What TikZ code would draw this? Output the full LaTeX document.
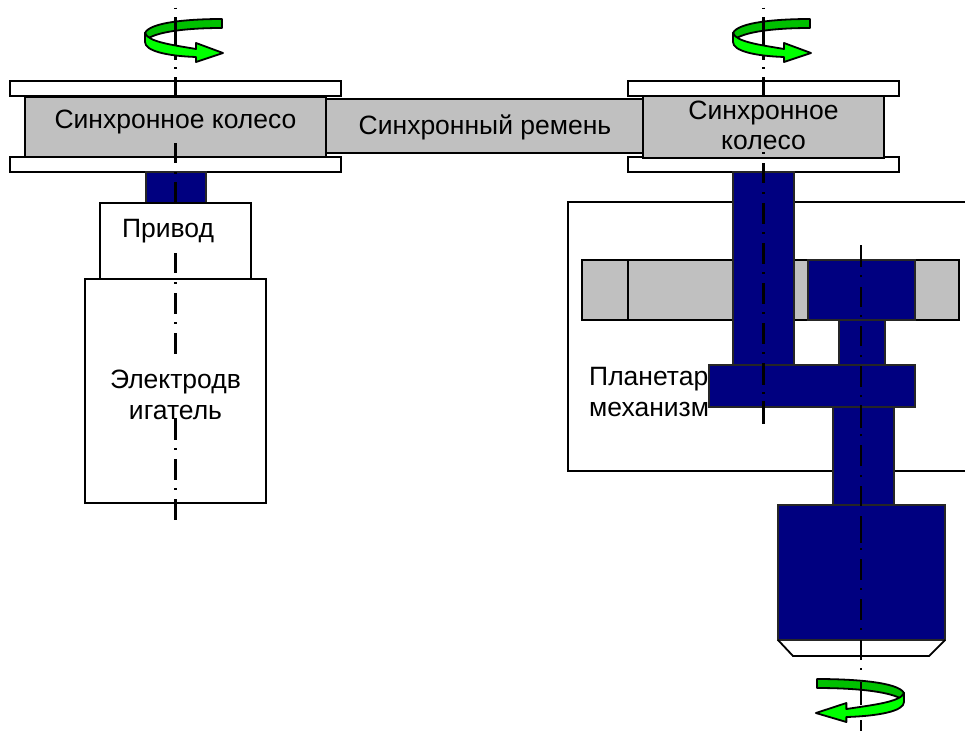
\documentclass[tikz,border=0pt]{standalone}
\usepackage{fontspec}
\setmainfont{Liberation Sans}
\definecolor{shaft}{HTML}{000080}
\definecolor{wheel}{HTML}{C0C0C0}
\definecolor{spindark}{HTML}{00C000}
\definecolor{spinlight}{HTML}{00FF00}
\tikzset{
  part/.style={draw=black,line width=1.8pt,fill=white},
  grayp/.style={part,fill=wheel},
  navyp/.style={draw=black!85,line width=1.7pt,fill=shaft},
  axisl/.style={draw=black,line width=2.2pt},
  spinb/.style={draw=black,line width=1.8pt,fill=spindark,line join=round},
  spinf/.style={draw=black,line width=1.8pt,fill=spinlight,line join=round},
  lab/.style={inner sep=0pt,font=\fontsize{26.5}{23}\selectfont,text=black},
  spinback/.pic={\path[spinb] (77,19) .. controls (45,19) and (5,22) .. (0,33) -- (1,40) .. controls (10,32) and (40,28) .. (77,28) -- cycle;},
  spinfront/.pic={\path[spinf] (0,33) .. controls (3,42) and (28,45) .. (51,49) -- (51,43) -- (78,53) -- (51,62) -- (51,57) .. controls (22,56) and (0,51) .. (0,42) -- cycle;}
}
\begin{document}
\begin{tikzpicture}[x=1pt,y=-1pt]
\useasboundingbox (0,0) rectangle (965,731);
\clip (0,0) rectangle (965,731);
\fill[white] (0,0) rectangle (965,731);
% left column
\path[part] (10,81) rectangle (341,96);
\path[part] (10,157) rectangle (341,172);
\path[navyp] (146,172) rectangle (206,203);
\path[part] (100,203) rectangle (251,279);
\path[part] (85,279) rectangle (266,503);
\path[grayp] (326,99) rectangle (643,153);
\path[grayp] (25,97) rectangle (326,157);
% right column
\path[part] (628,81) rectangle (899,96);
\path[part] (628,157) rectangle (899,172);
\path[grayp] (643,96) rectangle (884,158);
\path[part] (975,202) -- (568,202) -- (568,471) -- (975,471);
\path[grayp] (582,260) rectangle (959,320);
\draw[line width=1.8pt] (628,260) -- (628,320);
\path[navyp] (733,172) rectangle (794,365);
\path[navyp] (808,260) rectangle (915,320);
\path[navyp] (839,320) rectangle (885,365);
\path[navyp] (833,407) rectangle (894,505);
\path[navyp] (709,365) rectangle (915,407);
\path[navyp] (778,505) rectangle (945,640);
\path[part,fill=none] (778,640) -- (793,656) -- (929,656) -- (945,640);
% rotation arrows, back bands
\pic at (145,0) {spinback};
\pic at (733,0) {spinback};
\pic[xscale=-1.13] at (904,660) {spinback};
% axes
\draw[axisl] foreach \a/\b in {7.5/9,17/60,67/69,77/97,143/163,172/174,182/203,253/273,282/284,293/314,322/324,333/354,418/440,448/450,459/480,488/490,499/520} {(175.5,\a) -- (175.5,\b)};
\draw[axisl] foreach \a/\b in {7.5/9,17/60,67/69,77/97,152/154,163/183,192/194,203/224,232/234,243/264,272/274,283/304,312/314,323/344,352/354,363/385,392/394,401/424} {(763.5,\a) -- (763.5,\b)};
\draw[axisl] foreach \a/\b in {245/267,275/277,287/307,315/317,326/346,355/357,366/387,395/397,405/428,434/436,445/466,475/477,486/506,516/543,548/550,559/580,588/590,599/620,628/630,640/660,668/670,682/705,720/731} {(861,\a) -- (861,\b)};
% rotation arrows, front bands
\pic at (145,0) {spinfront};
\pic at (733,0) {spinfront};
\pic[xscale=-1.13] at (904,660) {spinfront};
% labels
\node[lab] (wheelL) at (175.5,122) {Синхронное колесо};
\node[lab] (belt) at (485,127) {Синхронный ремень};
\node[lab,align=center] (wheelR) at (763.5,125) {Синхронное\\[7pt]колесо};
\node[lab] (drive) at (168,231) {Привод};
\node[lab,align=center] (motor) at (175.5,395) {Электродв\\[8pt]игатель};
\node[lab,anchor=base west] (pm1) at (589,385) {Планетар};
\node[lab,anchor=base west] (pm2) at (589,416) {механизм};
\end{tikzpicture}
\end{document}
